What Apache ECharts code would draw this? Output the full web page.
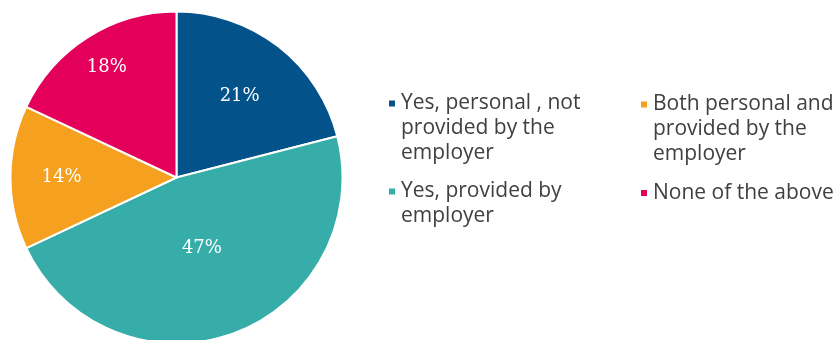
<!DOCTYPE html>
<html>
<head>
<meta charset="utf-8">
<script src="https://cdn.jsdelivr.net/npm/echarts@6/dist/echarts.min.js"></script>
<style>
html,body{margin:0;padding:0;background:#fff;}
#chart{width:837px;height:340px;}
</style>
</head>
<body>
<div id="chart"></div>
<script>
// ---- data ----
var categories = [
  'Yes, personal , not provided by the employer',
  'Yes, provided by employer',
  'Both personal and provided by the employer',
  'None of the above'
];
var values = [21, 47, 14, 18];
var legendLines = [
  ['Yes, personal , not', 'provided by the', 'employer'],
  ['Yes, provided by', 'employer'],
  ['Both personal and', 'provided by the', 'employer'],
  ['None of the above']
];

// ---- style ----
var colors = ['#03538A', '#36ADA9', '#F6A01F', '#E4005A'];
var center = [176.5, 177.5];
var pieRadius = 166;
var labelRadius = [100, 72, 112, 127];   // distance of each percentage label from centre
var legendPos = [ // [left, iconCenterY]
  [387, 103.5], [387, 191.5], [639, 104.5], [639, 193]
];
var lineH = 25;

var chart = echarts.init(document.getElementById('chart'), null, {renderer: 'canvas'});

var pieData = categories.map(function (c, i) {
  return {name: c, value: values[i], itemStyle: {color: colors[i]}};
});

var series = [{
  type: 'pie',
  center: center,
  radius: [0, pieRadius],
  startAngle: 90,
  clockwise: true,
  silent: true,
  label: {show: false},
  labelLine: {show: false},
  itemStyle: {borderColor: '#ffffff', borderWidth: 2},
  data: pieData
}];

// one invisible ring per label so each label sits at its own radius
categories.forEach(function (c, k) {
  series.push({
    type: 'pie',
    center: center,
    radius: [labelRadius[k] - 1, labelRadius[k] + 1],
    startAngle: 90,
    clockwise: true,
    silent: true,
    legendHoverLink: false,
    labelLine: {show: false},
    data: categories.map(function (cc, i) {
      return {
        name: cc,
        value: values[i],
        itemStyle: {color: 'rgba(0,0,0,0)', borderWidth: 0},
        label: {
          show: i === k,
          position: 'inside',
          formatter: function (p) { return p.value + '%'; },
          color: '#ffffff',
          fontFamily: 'DejaVu Serif',
          fontSize: 18
        }
      };
    })
  });
});

var legends = categories.map(function (c, i) {
  var n = legendLines[i].length;
  var boxH = (2 * n - 1) * lineH;
  var pad = [];
  for (var j = 1; j < n; j++) pad.push('');
  return {
    orient: 'vertical',
    left: legendPos[i][0],
    top: legendPos[i][1] - boxH / 2,
    padding: 0,
    itemWidth: 8,
    itemHeight: 8,
    selectedMode: false,
    icon: 'rect',
    data: [{name: c, itemStyle: {color: colors[i]}}],
    formatter: function () { return pad.concat(legendLines[i]).join('\n'); },
    textStyle: {
      fontFamily: 'Open Sans',
      fontSize: 21,
      lineHeight: lineH,
      color: '#404040'
    }
  };
});

chart.setOption({
  animation: false,
  backgroundColor: '#ffffff',
  legend: legends,
  series: series
});
</script>
</body>
</html>
